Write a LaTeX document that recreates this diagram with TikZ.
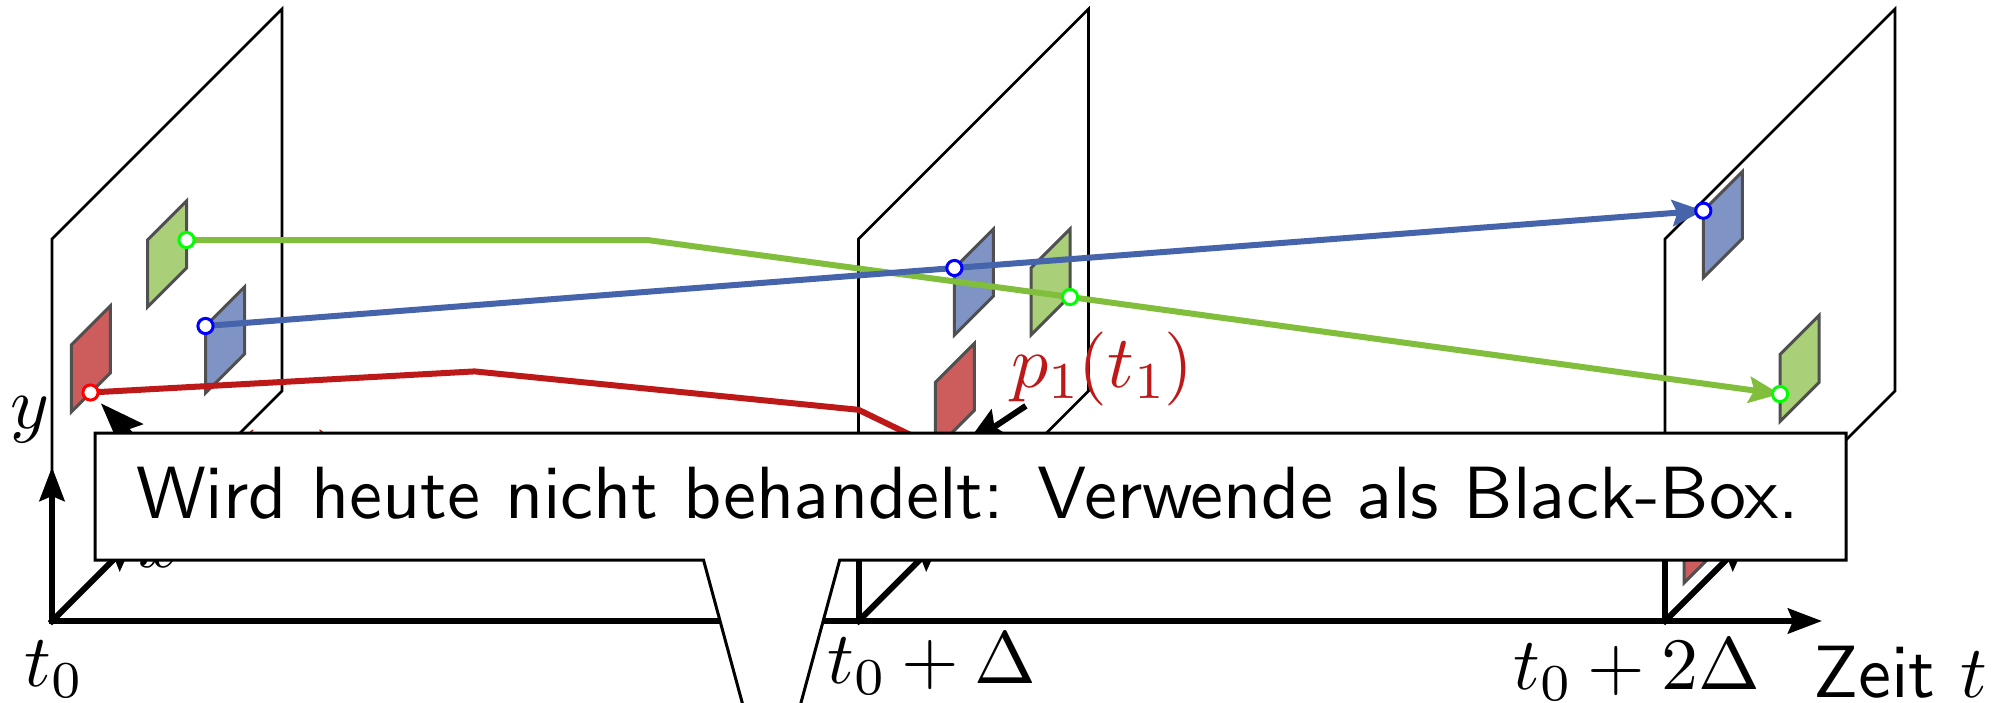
\documentclass[tikz,border=0pt]{standalone}
\usetikzlibrary{arrows.meta}
\DeclareFontFamily{OML}{cmm}{\skewchar\font'177}
\DeclareFontShape{OML}{cmm}{m}{it}{<-6>cmmi5<6-8>cmmi7<8-20>cmmi10<20-30>cmmi7<30->cmmi10}{}
\DeclareFontFamily{OT1}{cmr}{\hyphenchar\font45}
\DeclareFontShape{OT1}{cmr}{m}{n}{<-6>cmr5<6-8>cmr7<8-20>cmr10<20-30>cmr7<30->cmr10}{}
\DeclareFontFamily{OMS}{cmsy}{\skewchar\font48}
\DeclareFontShape{OMS}{cmsy}{m}{n}{<-6>cmsy5<6-8>cmsy7<8-20>cmsy10<20-30>cmsy7<30->cmsy10}{}
\DeclareFontFamily{OMX}{cmex}{}
\DeclareFontShape{OMX}{cmex}{m}{n}{<->cmex10}{}
\DeclareFontFamily{OT1}{cmss}{\hyphenchar\font45}
\DeclareFontShape{OT1}{cmss}{m}{n}{<->cmss10}{}
\newcommand\cmsans{\fontencoding{OT1}\fontfamily{cmss}\fontseries{m}\fontshape{n}\selectfont}
\definecolor{gfill}{RGB}{169,208,120}
\definecolor{bfill}{RGB}{127,147,197}
\definecolor{rfill}{RGB}{205,92,92}
\definecolor{gline}{RGB}{128,190,60}
\definecolor{bline}{RGB}{70,100,172}
\definecolor{rline}{RGB}{190,25,25}
\definecolor{pgray}{RGB}{80,80,80}
\definecolor{dgreen}{RGB}{0,255,0}
\definecolor{dblue}{RGB}{0,0,255}
\definecolor{dred}{RGB}{255,0,0}
\newcommand\drawpatch[3]{\draw[patchbox,fill=#1] (#2,#3) -- ++(0,-67) -- ++(39,-39) -- ++(0,67) -- cycle;}
\begin{document}
\begin{tikzpicture}[x=0.5pt,y=-0.5pt,
 plane/.style={draw=black,line width=1.3pt,line join=miter},
 axisarrow/.style={line width=3pt,line cap=rect,-{Stealth[length=17pt,width=12.5pt,inset=2.5pt]}},
 patchbox/.style={draw=pgray,line width=1.5pt},
 traj/.style={line width=3pt,line join=round},
 trajarrow/.style={traj,-{Stealth[length=15.5pt,width=13pt,inset=2.5pt]}},
 dotmark/.style={circle,draw,fill=white,line width=1.5pt,minimum size=7.6pt,inner sep=0pt},
 lbl/.style={inner sep=0pt,font={\fontsize{37}{44}\selectfont}},
 msgtext/.style={inner sep=0pt,font={\fontsize{37}{44}\selectfont\cmsans}},
 note/.style={line width=3pt,-{Stealth[length=22pt,width=16pt,inset=3.5pt]}},
 callout/.style={draw=black,fill=white,line width=1.5pt,line join=miter}]

\useasboundingbox (0,0) rectangle (2000,702);
\clip (0,0) rectangle (2000,702);

% origins of the three planes
\coordinate (O1) at (52,621);
\coordinate (O2) at (858.5,621);
\coordinate (O3) at (1665,621);
\coordinate (tend) at (1822,621);

% planes
\foreach \o in {O1,O2,O3}
  \draw[plane] (\o) -- ++(0,-382) -- ++(230,-230) -- ++(0,382) -- cycle;

% axes
\draw[axisarrow] (O1) -- (tend);
\foreach \o in {O1,O2,O3} {
  \draw[axisarrow] (\o) -- ++(0,-154);
  \draw[axisarrow] (\o) -- ++(83,-83);
}

% patches
\drawpatch{gfill}{147.5}{307}
\drawpatch{bfill}{205.5}{393}
\drawpatch{rfill}{71.3}{412}
\drawpatch{bfill}{954.4}{335}
\drawpatch{gfill}{1031}{335}
\drawpatch{rfill}{935.3}{449.5}
\drawpatch{bfill}{1703.3}{277.7}
\drawpatch{gfill}{1780}{421.5}
\drawpatch{rfill}{1684}{583}

% trajectory points
\coordinate (g1) at (186.5,240);
\coordinate (gk) at (647.3,240);
\coordinate (g2) at (1070,297);
\coordinate (g3) at (1780,394);
\coordinate (b1) at (205.5,326);
\coordinate (b2) at (954.4,268);
\coordinate (b3) at (1703.3,210.7);
\coordinate (r1) at (90.5,392.5);
\coordinate (rk) at (474.6,371.4);
\coordinate (rm) at (858.5,409.8);
\coordinate (r2) at (952,455);
\coordinate (r3) at (1684,516);

% trajectories
\draw[trajarrow,gline] (g1) -- (gk) -- (g2) -- (g3);
\draw[trajarrow,bline] (b1) -- (b2) -- (b3);
\draw[trajarrow,rline] (r1) -- (rk) -- (rm) -- (r2) -- (r3);

% dots
\foreach \c/\col in {g1/dgreen,g2/dgreen,g3/dgreen,b1/dblue,b2/dblue,b3/dblue,r1/dred,r2/dred,r3/dred}
  \node[dotmark,draw=\col] at (\c) {};

% labels
\node[lbl,anchor=base] (ylab) at (30,428) {$y$};
\node[lbl,anchor=base] (xlab) at (160,567) {$x$};
\node[lbl,anchor=base] (t0lab) at (53,686) {$t_0$};
\node[lbl,anchor=base] (t1lab) at (932,683) {$t_0+\Delta$};
\node[lbl,anchor=base] (t2lab) at (1637,689) {$t_0+2\Delta$};
\node[lbl,anchor=base] (zeit) at (1900,697) {\cmsans Zeit $t$};
\node[lbl,anchor=base,text=rline] (p1t0) at (253,485) {$p_1(t_0)$};
\node[lbl,anchor=base,text=rline] (p1t1) at (1102.5,387) {$p_1(t_1)$};
\draw[note,shorten >=7.5pt] (p1t0.west) -- (r1);
\draw[note,shorten >=7pt] ([xshift=7.5pt]p1t1.south west) -- (r2);

% callout
\coordinate (ctip) at (771.6,811);
\draw[callout] (95,433) -- (1846,433) -- (1846,560) -- (839.7,560) -- (ctip) -- (703.5,560) -- (95,560) -- cycle;
\node[msgtext,anchor=base] (msg) at (968.3,518) {Wird heute nicht behandelt: Verwende als Black-Box.};
\end{tikzpicture}
\end{document}
